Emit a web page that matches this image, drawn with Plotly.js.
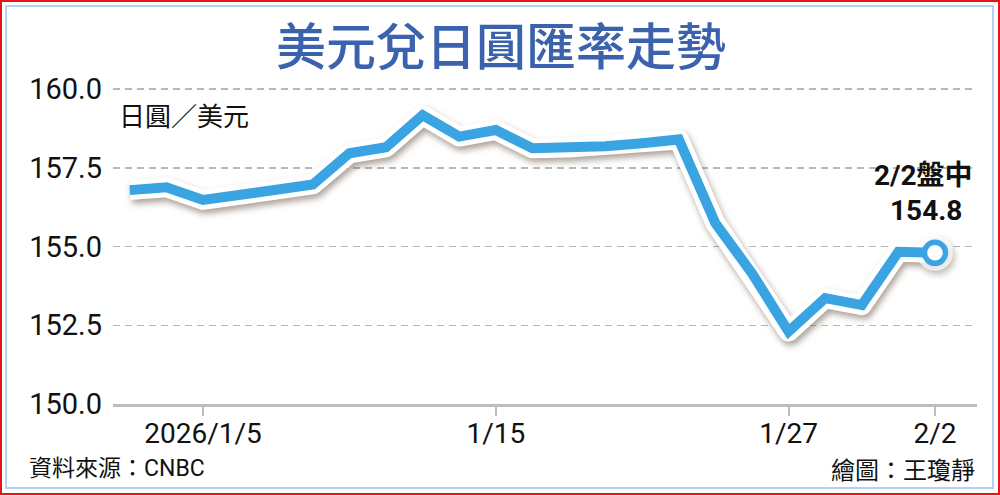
<!DOCTYPE html>
<html>
<head>
<meta charset="utf-8">
<script src="https://cdn.plot.ly/plotly-3.0.1.min.js"></script>
<style>
  html, body { margin: 0; padding: 0; background: #fff; overflow: hidden; }
  #wrap { position: relative; width: 1000px; height: 495px; }
  #chart { position: absolute; left: 0; top: 0; width: 1000px; height: 495px; }
  #outer { position: absolute; left: 0; top: 0; width: 1000px; height: 495px; box-sizing: border-box; border: 2.5px solid #e8141c; pointer-events: none; }
  #inner { position: absolute; left: 5px; top: 5px; width: 989px; height: 484px; box-sizing: border-box; border: 2px solid #b3d2f3; pointer-events: none; }
</style>
</head>
<body>
<div id="wrap">
  <div id="chart"></div>
  <div id="outer"></div>
  <div id="inner"></div>
</div>
<script>
// ---- data ----
const dates = ['2025-12-31','2026-01-02','2026-01-05','2026-01-06','2026-01-07','2026-01-08','2026-01-09',
               '2026-01-12','2026-01-13','2026-01-14','2026-01-15','2026-01-16','2026-01-19','2026-01-20',
               '2026-01-21','2026-01-22','2026-01-23','2026-01-26','2026-01-27','2026-01-28','2026-01-29',
               '2026-01-30','2026-02-02'];
const usdjpy = [156.79, 156.88, 156.48, 156.68, 156.80, 156.97, 157.96,
                158.15, 159.17, 158.49, 158.70, 158.12, 158.14, 158.18,
                158.28, 158.40, 155.74, 154.15, 152.30, 153.36, 153.14,
                154.83, 154.80];
const tickDates = ['2026-01-05','2026-01-15','2026-01-27','2026-02-02'];
const tickLabels = ['2026/1/5','1/15','1/27','2/2'];
const yTicks = [150.0, 152.5, 155.0, 157.5, 160.0];
const titleText = '美元兌日圓匯率走勢';
const unitText = '日圓／美元';
const lastLabel = '2/2盤中';
const sourceText = '資料來源：CNBC';
const creditText = '繪圖：王瓊靜';

const n = dates.length;
const lastDate = dates[n - 1];
const lastVal = usdjpy[n - 1];
const haloSizes = usdjpy.map((v, i) => (i === n - 1 ? 36 : 0));

const blue = '#3aa3e2';
const numFont = 'Roboto, "Noto Sans CJK TC", sans-serif';
const cjkFont = '"Noto Sans CJK TC", sans-serif';

const traces = [
  { // white outline + halo (with drop shadow)
    x: dates, y: usdjpy, type: 'scatter', mode: 'lines+markers',
    line: { color: '#ffffff', width: 20 },
    marker: { color: '#ffffff', size: haloSizes, line: { width: 0 } },
    hoverinfo: 'skip', cliponaxis: false
  },
  { // main blue line
    x: dates, y: usdjpy, type: 'scatter', mode: 'lines',
    line: { color: blue, width: 10 },
    hoverinfo: 'skip', cliponaxis: false
  },
  { // end marker
    x: [lastDate], y: [lastVal], type: 'scatter', mode: 'markers',
    marker: { color: '#ffffff', size: 21, line: { color: blue, width: 5.5 } },
    hoverinfo: 'skip', cliponaxis: false
  }
];

const layout = {
  width: 1000, height: 495,
  margin: { l: 113, r: 23, t: 78, b: 91 },
  paper_bgcolor: '#ffffff', plot_bgcolor: '#ffffff',
  showlegend: false,
  title: {
    text: titleText, xref: 'container', x: 0.501, xanchor: 'center',
    yref: 'container', y: 1 - 47 / 495, yanchor: 'middle',
    font: { family: cjkFont, size: 50, color: '#3a62ad', weight: 500 }
  },
  xaxis: {
    type: 'category', range: [-0.459, 23.148],
    showgrid: false, zeroline: false,
    showline: true, linecolor: '#bdbdbd', linewidth: 2.5,
    ticks: 'outside', tickcolor: '#bdbdbd', tickwidth: 2, ticklen: 9,
    tickmode: 'array', tickvals: tickDates, ticktext: tickLabels,
    tickfont: { family: numFont, size: 28, color: '#111' },
    ticklabelstandoff: -6
  },
  yaxis: {
    range: [150, 160.35], zeroline: false, showline: false,
    tickmode: 'array', tickvals: yTicks, ticktext: yTicks.map(v => v.toFixed(1)),
    ticks: '', showgrid: true, gridcolor: '#b8b8b8', gridwidth: 1.5, griddash: '7px,5px',
    tickfont: { family: numFont, size: 29, color: '#111' },
    ticklabelstandoff: 10
  },
  annotations: [
    { text: unitText, xref: 'paper', yref: 'paper', x: (117 - 113) / 864, y: (404 - 114) / 326,
      xanchor: 'left', yanchor: 'middle', showarrow: false,
      font: { family: cjkFont, size: 26, color: '#111' } },
    { text: lastLabel, xref: 'x', yref: 'y', x: lastDate, y: lastVal, xshift: -11, yshift: 77,
      xanchor: 'center', yanchor: 'middle', showarrow: false,
      font: { family: numFont, size: 28, color: '#111', weight: 700 } },
    { text: lastVal.toFixed(1), xref: 'x', yref: 'y', x: lastDate, y: lastVal, xshift: -9, yshift: 42,
      xanchor: 'center', yanchor: 'middle', showarrow: false,
      font: { family: numFont, size: 28, color: '#111', weight: 700 } },
    { text: sourceText, xref: 'paper', yref: 'paper', x: (27 - 113) / 864, y: (404 - 468) / 326,
      xanchor: 'left', yanchor: 'middle', showarrow: false,
      font: { family: numFont, size: 23, color: '#111' } },
    { text: creditText, xref: 'paper', yref: 'paper', x: 1, y: (404 - 468) / 326,
      xanchor: 'right', yanchor: 'middle', showarrow: false,
      font: { family: cjkFont, size: 24, color: '#111' } }
  ]
};

Plotly.newPlot('chart', traces, layout, { staticPlot: true, displayModeBar: false }).then(gd => {
  const groups = gd.querySelectorAll('.scatterlayer .trace');
  if (groups[0]) {
    groups[0].style.filter = 'drop-shadow(2px 4px 3px rgba(90,70,50,0.5))';
    const p = groups[0].querySelector('.js-line');
    if (p) p.style.strokeLinejoin = 'round';
  }
});
</script>
</body>
</html>
